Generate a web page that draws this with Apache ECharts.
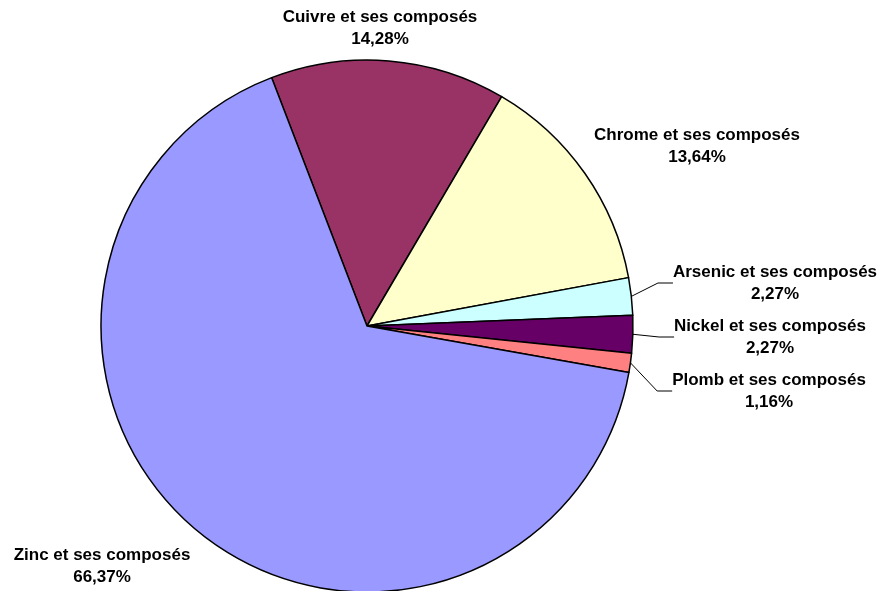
<!DOCTYPE html>
<html>
<head>
<meta charset="utf-8">
<script src="https://cdn.jsdelivr.net/npm/echarts@6/dist/echarts.min.js"></script>
<style>html,body{margin:0;padding:0;background:#fff;}#c{width:885px;height:591px;}</style>
</head>
<body>
<div id="c"></div>
<script>
const categories = ['Cuivre et ses composés', 'Chrome et ses composés', 'Arsenic et ses composés', 'Nickel et ses composés', 'Plomb et ses composés', 'Zinc et ses composés'];
const values = [14.28, 13.64, 2.27, 2.27, 1.16, 66.37];
const colors = ['#993366', '#FFFFCC', '#CCFFFF', '#660066', '#FF8080', '#9999FF'];
const showLine = [false, false, true, true, true, false];
const labelPos = [[380, 28], [697, 146], [775, 283], [770, 337], [769, 391], [102, 566]];

const chart = echarts.init(document.getElementById('c'), null, {renderer: 'canvas'});
chart.setOption({
  animation: false,
  backgroundColor: '#ffffff',
  series: [{
    type: 'pie',
    center: [367, 326],
    radius: 266,
    startAngle: 111,
    clockwise: true,
    avoidLabelOverlap: false,
    itemStyle: { borderColor: '#000', borderWidth: 1.5 },
    emphasis: { disabled: true },
    label: {
      show: true,
      position: 'outside',
      fontFamily: 'Liberation Sans, Arial, sans-serif',
      fontWeight: 'bold',
      fontSize: 17,
      lineHeight: 22,
      color: '#000',
      align: 'center',
      formatter: p => p.name + '\n' + p.value.toFixed(2).replace('.', ',') + '%'
    },
    labelLine: { show: true, lineStyle: { color: '#000', width: 1 }, length: 10, length2: 15 },
    labelLayout: p => ({ x: labelPos[p.dataIndex][0], y: labelPos[p.dataIndex][1], align: 'center', verticalAlign: 'middle' }),
    data: categories.map((n, i) => ({
      name: n, value: values[i],
      itemStyle: { color: colors[i] },
      labelLine: { show: showLine[i] }
    }))
  }]
});
</script>
</body>
</html>
